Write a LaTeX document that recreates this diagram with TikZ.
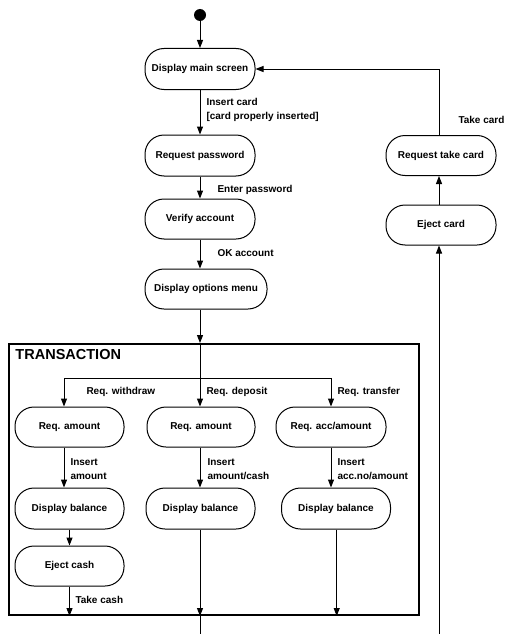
\documentclass[tikz,border=0pt]{standalone}
\usepackage{fontspec}
\setmainfont{Liberation Sans}
\usetikzlibrary{arrows.meta,calc}
\begin{document}
\begin{tikzpicture}[x=1pt,y=-1pt,
  line width=1pt,
  arr/.style={-{Triangle[length=8pt,width=6pt]}},
  state/.style={draw, rectangle, rounded corners=19pt, minimum height=40pt, inner sep=0pt,
     font=\bfseries\fontsize{10}{12}\selectfont},
  lbl/.style={anchor=west, inner sep=0pt, align=left, font=\bfseries\fontsize{10}{14}\selectfont}]
\useasboundingbox (0,0) rectangle (506,634);
% start
\node[circle, fill, minimum size=12pt, inner sep=0pt] (s) at (200,15) {};
\node[state, minimum width=110pt, minimum height=41pt] (dms) at (200,69) {Display main screen};
\node[state, minimum width=110pt, minimum height=41pt] (rp) at (200,155.5) {Request password};
\node[state, minimum width=110pt] (va) at (200,219) {Verify account};
\node[state, minimum width=122pt] (dom) at (206,289) {Display options menu};
% right column
\node[state, minimum width=110pt] (rtc) at (441,155.5) {Request take card};
\node[state, minimum width=110pt] (ej) at (441,225) {Eject card};
% frame
\node[draw, line width=2pt, minimum width=410pt, minimum height=271pt, inner sep=0pt] (tx) at (214,479.5) {};
\node[anchor=west, inner sep=0pt, font=\bfseries\fontsize{14.5}{16}\selectfont] (txl) at (15,355) {TRANSACTION};
\coordinate (fork) at (200,378);
\node[state, minimum width=109pt] (ra1) at (69.5,427) {Req. amount};
\node[state, minimum width=108pt] (ra2) at (201,427) {Req. amount};
\node[state, minimum width=110pt] (ra3) at (331,427) {Req. acc/amount};
\node[state, minimum width=109pt, minimum height=41pt] (db1) at (69.5,508.5) {Display balance};
\node[state, minimum width=109pt] (ec) at (69.5,566) {Eject cash};
\node[state, minimum width=109pt, minimum height=41pt] (db2) at (200.5,508.5) {Display balance};
\node[state, minimum width=109pt, minimum height=41pt] (db3) at (336,508.5) {Display balance};
\coordinate (b1) at (200,634);
\coordinate (b2) at (439,634);
% connectors main column
\draw[arr] (s) -- (dms.north -| s);
\draw[arr] (dms.south -| s) -- (rp.north -| s);
\draw[arr] (rp.south -| s) -- (va.north -| s);
\draw[arr] (va.south -| s) -- (dom.north -| s);
\draw[arr] (dom.south -| s) -- (tx.north -| s);
\draw[arr] (tx.north -| s) -- (ra2.north -| s);
\draw[arr] (fork) -| ($(ra1.north)+(-5.5,0)$);
\draw[arr] (fork) -| (ra3.north);
\draw[arr] ($(ra1.south)+(-5.5,0)$) -- ($(db1.north)+(-5.5,0)$);
\draw[arr] (db1) -- (ec);
\draw[arr] (ec.south) -- (ec.south |- tx.south);
\draw[arr] (ra2.south -| s) -- (db2.north -| s);
\draw[arr] (db2.south -| s) -- (tx.south -| s);
\draw (tx.south -| s) -- (b1);
\draw[arr] (ra3.south) -- (ra3.south |- db3.north);
\draw[arr] ($(db3.south)+(0.7,0)$) -- ($(db3.south |- tx.south)+(0.7,0)$);
% right loop
\draw[arr] (b2) -- (ej.south -| b2);
\draw[arr] (ej.north -| b2) -- (rtc.south -| b2);
\draw[arr] (rtc.north -| b2) |- (dms.east);
% labels
\node[lbl] (l1) at (206,110) {Insert card\\{}[card properly inserted]};
\node[lbl] (l2) at (217,190) {Enter password};
\node[lbl] (l3) at (217,253) {OK account};
\node[lbl] (l4) at (458,120) {Take card};
\node[lbl] (l5) at (86,392) {Req. withdraw};
\node[lbl] (l6) at (206,392) {Req. deposit};
\node[lbl] (l7) at (337,392) {Req. transfer};
\node[lbl] (l8) at (70,469.5) {Insert\\amount};
\node[lbl] (l9) at (207,469.5) {Insert\\amount/cash};
\node[lbl] (l10) at (337,469.5) {Insert\\acc.no/amount};
\node[lbl] (l11) at (75,600) {Take cash};
\end{tikzpicture}
\end{document}
